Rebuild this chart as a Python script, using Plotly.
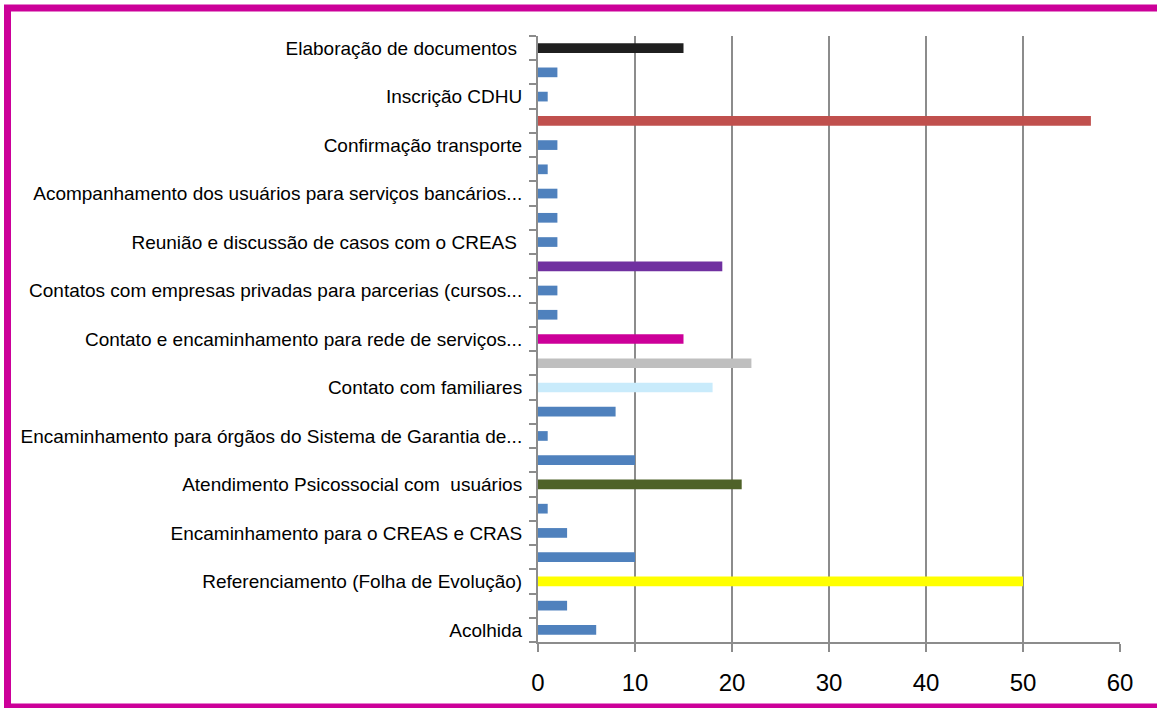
import plotly.graph_objects as go

# Categories from top to bottom (labels hidden in the original are kept as placeholders)
categories = [
    "Elaboração de documentos\u00a0",
    "(sem rótulo 2)",
    "Inscrição CDHU",
    "(sem rótulo 4)",
    "Confirmação transporte",
    "(sem rótulo 6)",
    "Acompanhamento dos usuários para serviços bancários...",
    "(sem rótulo 8)",
    "Reunião e discussão de casos com o CREAS\u00a0",
    "(sem rótulo 10)",
    "Contatos com empresas privadas para parcerias (cursos...",
    "(sem rótulo 12)",
    "Contato e encaminhamento para rede de serviços...",
    "(sem rótulo 14)",
    "Contato com familiares",
    "(sem rótulo 16)",
    "Encaminhamento para órgãos do Sistema de Garantia de...",
    "(sem rótulo 18)",
    "Atendimento Psicossocial com\u00a0 usuários",
    "(sem rótulo 20)",
    "Encaminhamento para o CREAS e CRAS",
    "(sem rótulo 22)",
    "Referenciamento (Folha de Evolução)",
    "(sem rótulo 24)",
    "Acolhida",
]
shown_labels = [c if not c.startswith("(sem rótulo") else "" for c in categories]
values = [15, 2, 1, 57, 2, 1, 2, 2, 2, 19, 2, 2, 15, 22, 18, 8, 1, 10, 21, 1, 3, 10, 50, 3, 6]

BLUE = "#4F81BD"
bar_colors = [
    "#1F1F1F", BLUE, BLUE, "#C0504D", BLUE, BLUE, BLUE, BLUE, BLUE, "#7030A0",
    BLUE, BLUE, "#CC0099", "#BFBFBF", "#C9EBFB", BLUE, BLUE, BLUE, "#4F6228", BLUE,
    BLUE, BLUE, "#FFFF00", BLUE, BLUE,
]
x_ticks = [0, 10, 20, 30, 40, 50, 60]

W, H = 1157, 708
L, R, T, B = 538, 37, 36, 66
pw, ph = W - L - R, H - T - B

def px_x(p):
    return (p - L) / pw

def px_y(p):
    return (H - B - p) / ph

fig = go.Figure(
    go.Bar(
        x=values,
        y=categories,
        orientation="h",
        width=0.4,
        marker=dict(color=bar_colors, line=dict(width=0)),
    )
)

axis_grey = "#8C8C8C"
fig.update_layout(
    width=W,
    height=H,
    margin=dict(l=L, r=R, t=T, b=B, autoexpand=False),
    paper_bgcolor="white",
    plot_bgcolor="white",
    showlegend=False,
    font=dict(family="Liberation Sans, Arial, sans-serif", color="#000000"),
    xaxis=dict(
        range=[0, 60],
        tickvals=x_ticks,
        showgrid=True,
        gridcolor=axis_grey,
        gridwidth=2,
        zeroline=False,
        showline=True,
        linecolor=axis_grey,
        linewidth=2,
        ticks="outside",
        ticklen=8,
        tickwidth=2,
        tickcolor=axis_grey,
        tickfont=dict(size=24, color="#000000"),
        ticklabelstandoff=10,
        automargin=False,
    ),
    yaxis=dict(
        type="category",
        range=[len(categories) - 0.5, -0.5],
        tickvals=categories,
        ticktext=shown_labels,
        tickson="boundaries",
        showgrid=False,
        zeroline=False,
        showline=True,
        linecolor=axis_grey,
        linewidth=2,
        ticks="outside",
        ticklen=7,
        tickwidth=2,
        tickcolor=axis_grey,
        tickfont=dict(size=19, color="#000000"),
        ticklabelstandoff=10,
        automargin=False,
    ),
    shapes=[
        dict(
            type="rect",
            xref="paper",
            yref="paper",
            x0=px_x(7.5),
            x1=px_x(1170),
            y0=px_y(707),
            y1=px_y(8),
            line=dict(color="#CC0099", width=7),
            fillcolor="rgba(0,0,0,0)",
            layer="above",
        )
    ],
)

fig.write_html(
    "out.html",
    config={"displayModeBar": False},
    post_script="document.body.style.margin='0';",
)
